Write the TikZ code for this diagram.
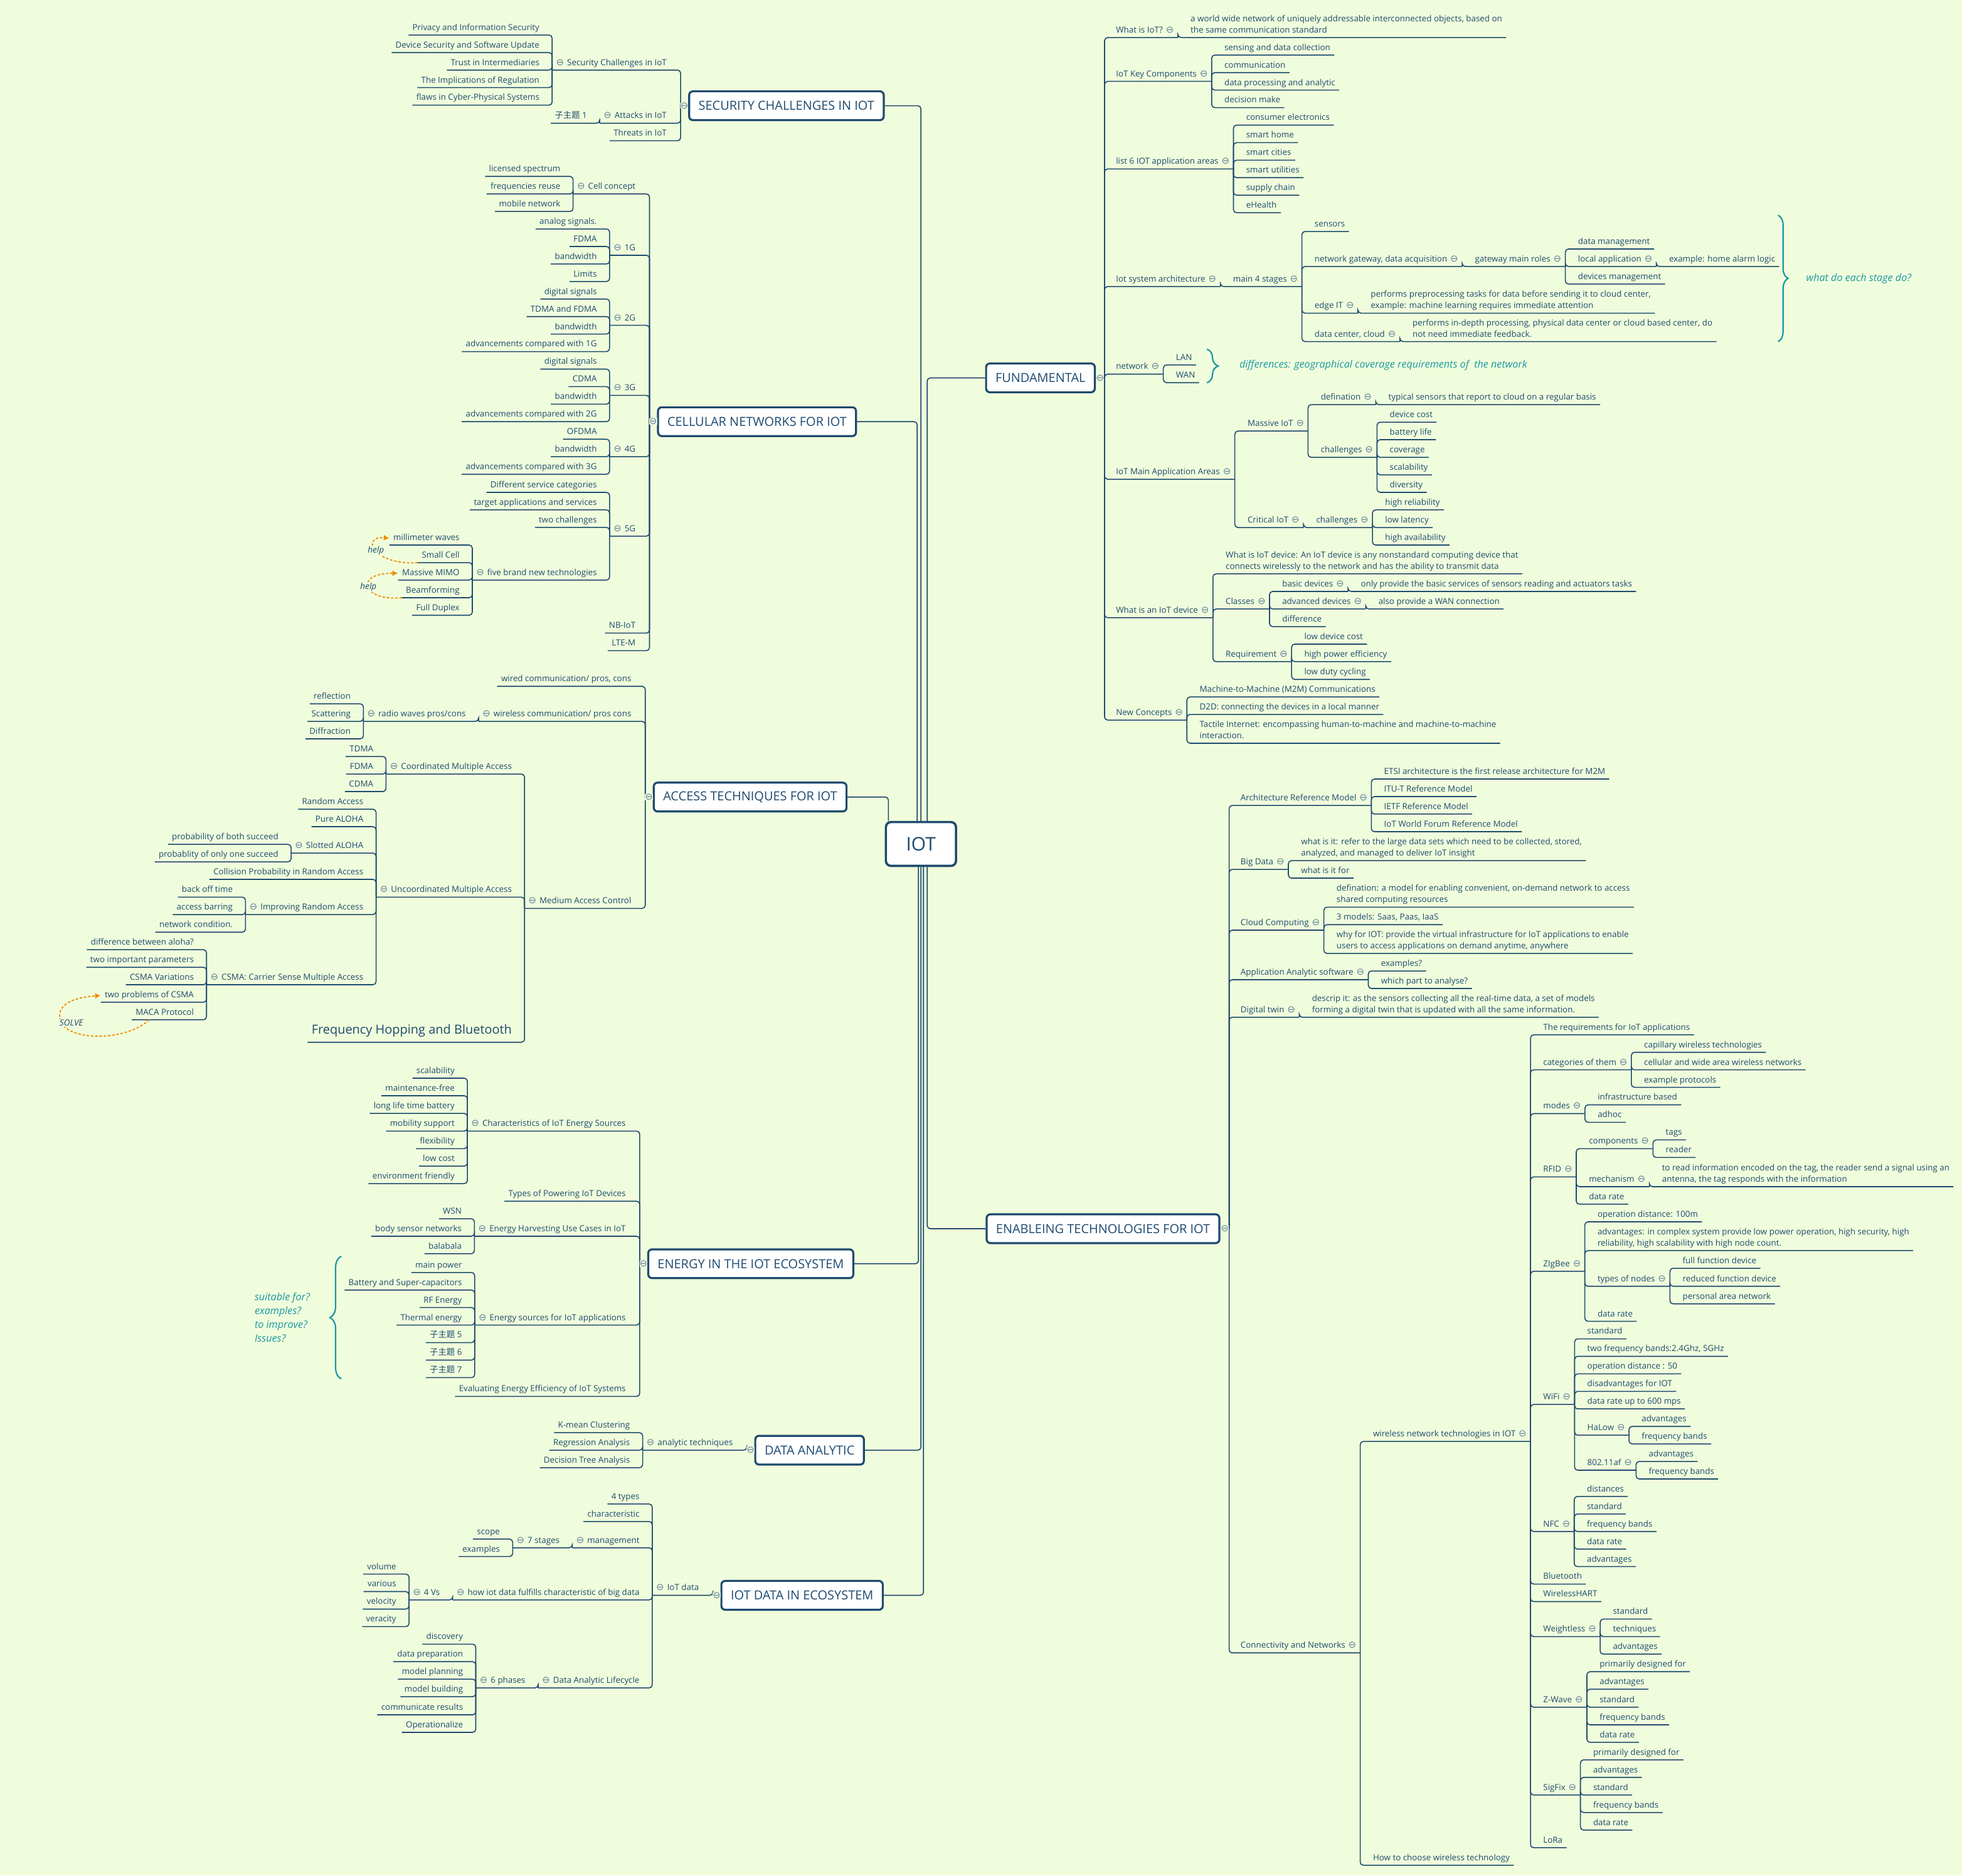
\documentclass[tikz,border=0pt]{standalone}
\usepackage{fontspec}
\setmainfont{Open Sans}
\newfontfamily\cjk{Noto Sans CJK SC}
\newfontfamily\mkfont{DejaVu Sans}
\usetikzlibrary{arrows.meta, decorations.pathreplacing}

\definecolor{paper}{HTML}{F0FDDC}
\definecolor{ink}{HTML}{1D4A6F}
\definecolor{notec}{HTML}{1797A3}
\definecolor{orng}{HTML}{F08C00}

\newcommand\mkr{{\mkfont\fontsize{7.5}{8}\selectfont\textcolor{ink!70}{⊖}}}
\newcommand\zt[1]{{\cjk 子主题} #1}
\newcommand\lnd{\rule[-1.6pt]{0pt}{1pt}}

\begin{document}
\begin{tikzpicture}[
  x=1pt, y=-1pt,
  every edge/.style={draw=ink, line width=.8pt, rounded corners=2.5pt, to path={|- (\tikztotarget)}},
  link/.style={draw=ink, line width=.8pt},
  lf/.style={font=\fontsize{6.7}{9}\selectfont, text=ink, inner xsep=3pt, inner ysep=2pt, text height=4.9pt, text depth=1.6pt},
  lfL/.style={lf, anchor=south east, xshift=-7pt},
  lfR/.style={lf, anchor=south west, xshift=7pt},
  hubL/.style={lfL, execute at begin node={\mkr\hspace{2.5pt}}},
  hubR/.style={lfR, execute at end node={\hspace{2.5pt}\mkr}},
  para/.style={font=\fontsize{6.7}{9}\selectfont, text=ink, inner xsep=3pt, inner ysep=2pt, align=left, anchor=south west, xshift=7pt},
  topic/.style={draw=ink, line width=1.6pt, rounded corners=3pt, fill=white, text=ink, font=\fontsize{10}{12}\selectfont, inner xsep=7.5pt, minimum height=23pt},
  mk/.style={font=\mkfont\fontsize{7.5}{8}\selectfont, text=ink!70, fill=paper, inner sep=0pt},
  remark/.style={text=notec, font=\fontsize{8.1}{11}\selectfont\itshape},
  bracelet/.style={draw=notec, line width=1.1pt, decorate, decoration={brace, amplitude=#1}},
  assoc/.style={draw=orng, line width=.9pt, dash pattern=on 2pt off 1.4pt, -{Latex[length=4.5pt,width=4.5pt]}},
  asclbl/.style={text=ink, font=\fontsize{6.8}{8}\selectfont\itshape, fill=paper, inner sep=.6pt}
]
\fill[paper] (0,0) rectangle (1568,1499);
\useasboundingbox (0,0) rectangle (1568,1499);

% centre and main topics
\node[topic, font=\fontsize{15}{18}\selectfont, minimum width=56pt, minimum height=35pt, rounded corners=4pt, line width=1.8pt] (iot) at (736,674.5) {IOT};
\node[topic] (sec) at (628.5,84.5) {SECURITY CHALLENGES IN IOT};
\node[topic] (cel) at (605,337) {CELLULAR NETWORKS FOR IOT};
\node[topic] (acc) at (599.5,637) {ACCESS TECHNIQUES FOR IOT};
\node[topic] (ene) at (600,1010) {ENERGY IN THE IOT ECOSYSTEM};
\node[topic] (dat) at (647,1159) {DATA ANALYTIC};
\node[topic] (iod) at (641,1275) {IOT DATA IN ECOSYSTEM};
\node[topic] (fun) at (831.5,302) {FUNDAMENTAL};
\node[topic] (ena) at (881.5,982) {ENABLEING TECHNOLOGIES FOR IOT};

\draw ([xshift=0pt]iot.north) edge (sec.east);
\draw ([xshift=-3pt]iot.north) edge (cel.east);
\draw ([xshift=-26pt]iot.north) edge (acc.east);
\draw ([xshift=5pt]iot.north) edge (fun.west);
\draw ([xshift=-2pt]iot.south) edge (ene.east);
\draw ([xshift=0pt]iot.south) edge (dat.east);
\draw ([xshift=2pt]iot.south) edge (iod.east);
\draw ([xshift=5pt]iot.south) edge (ena.west);

% security
\node[hubL, xshift=-7pt] (sc1) at (sec.west |- 0,56) {Security Challenges in IoT};
\node[lfL] (sc1a) at (sc1.south west |- 0,28) {Privacy and Information Security};
\node[lfL] (sc1b) at (sc1.south west |- 0,42) {Device Security and Software Update};
\node[lfL] (sc1c) at (sc1.south west |- 0,56) {Trust in Intermediaries};
\node[lfL] (sc1d) at (sc1.south west |- 0,70) {The Implications of Regulation};
\node[lfL] (sc1e) at (sc1.south west |- 0,84) {flaws in Cyber-Physical Systems};
\node[hubL, xshift=-7pt] (sc2) at (sec.west |- 0,98.5) {Attacks in IoT};
\node[lfL] (sc2a) at (sc2.south west |- 0,98.5) {\zt{1}};
\node[lfL, xshift=-7pt] (sc3) at (sec.west |- 0,112.5) {Threats in IoT};
\draw[link] (sec.west) -- ++(-6,0) edge (sc1.south west) edge (sc2.south west) edge (sc3.south west);
\draw (sc1.south west) edge (sc1a.south west) edge (sc1b.south west) edge (sc1c.south west) edge (sc1d.south west) edge (sc1e.south west);
\draw (sc2.south west) edge (sc2a.south west);

% cellular
\node[hubL, xshift=-7pt] (ce1) at (cel.west |- 0,155) {Cell concept};
\node[lfL] (ce1a) at (ce1.south west |- 0,141) {licensed spectrum};
\node[lfL] (ce1b) at (ce1.south west |- 0,155) {frequencies reuse};
\node[lfL] (ce1c) at (ce1.south west |- 0,169) {mobile network};
\node[hubL, xshift=-7pt] (ce2) at (cel.west |- 0,204) {1G};
\node[lfL] (ce2a) at (ce2.south west |- 0,183) {analog signals.};
\node[lfL] (ce2b) at (ce2.south west |- 0,197) {FDMA};
\node[lfL] (ce2c) at (ce2.south west |- 0,211) {bandwidth};
\node[lfL] (ce2d) at (ce2.south west |- 0,225) {Limits};
\node[hubL, xshift=-7pt] (ce3) at (cel.west |- 0,260) {2G};
\node[lfL] (ce3a) at (ce3.south west |- 0,239) {digital signals};
\node[lfL] (ce3b) at (ce3.south west |- 0,253) {TDMA and FDMA};
\node[lfL] (ce3c) at (ce3.south west |- 0,267) {bandwidth};
\node[lfL] (ce3d) at (ce3.south west |- 0,281) {advancements compared with 1G};
\node[hubL, xshift=-7pt] (ce4) at (cel.west |- 0,316) {3G};
\node[lfL] (ce4a) at (ce4.south west |- 0,295) {digital signals};
\node[lfL] (ce4b) at (ce4.south west |- 0,309) {CDMA};
\node[lfL] (ce4c) at (ce4.south west |- 0,323) {bandwidth};
\node[lfL] (ce4d) at (ce4.south west |- 0,337) {advancements compared with 2G};
\node[hubL, xshift=-7pt] (ce5) at (cel.west |- 0,365) {4G};
\node[lfL] (ce5a) at (ce5.south west |- 0,351) {OFDMA};
\node[lfL] (ce5b) at (ce5.south west |- 0,365) {bandwidth};
\node[lfL] (ce5c) at (ce5.south west |- 0,379) {advancements compared with 3G};
\node[hubL, xshift=-7pt] (ce6) at (cel.west |- 0,428.5) {5G};
\node[lfL] (ce6a) at (ce6.south west |- 0,393.5) {Different service categories};
\node[lfL] (ce6b) at (ce6.south west |- 0,407.5) {target applications and services};
\node[lfL] (ce6c) at (ce6.south west |- 0,421.5) {two challenges};
\node[hubL] (ce6d) at (ce6.south west |- 0,463.6) {five brand new technologies};
\node[lfL] (ce6d1) at (ce6d.south west |- 0,435.6) {millimeter waves};
\node[lfL] (ce6d2) at (ce6d.south west |- 0,449.7) {Small Cell};
\node[lfL] (ce6d3) at (ce6d.south west |- 0,463.6) {Massive MIMO};
\node[lfL] (ce6d4) at (ce6d.south west |- 0,477.7) {Beamforming};
\node[lfL] (ce6d5) at (ce6d.south west |- 0,491.7) {Full Duplex};
\node[lfL, xshift=-7pt] (ce7) at (cel.west |- 0,506) {NB-IoT};
\node[lfL, xshift=-7pt] (ce8) at (cel.west |- 0,520) {LTE-M};
\draw[link] (cel.west) -- ++(-6,0) edge (ce1.south west) edge (ce2.south west) edge (ce3.south west) edge (ce4.south west) edge (ce5.south west) edge (ce6.south west) edge (ce7.south west) edge (ce8.south west);
\draw (ce1.south west) edge (ce1a.south west) edge (ce1b.south west) edge (ce1c.south west);
\draw (ce2.south west) edge (ce2a.south west) edge (ce2b.south west) edge (ce2c.south west) edge (ce2d.south west);
\draw (ce3.south west) edge (ce3a.south west) edge (ce3b.south west) edge (ce3c.south west) edge (ce3d.south west);
\draw (ce4.south west) edge (ce4a.south west) edge (ce4b.south west) edge (ce4c.south west) edge (ce4d.south west);
\draw (ce5.south west) edge (ce5a.south west) edge (ce5b.south west) edge (ce5c.south west);
\draw (ce6.south west) edge (ce6a.south west) edge (ce6b.south west) edge (ce6c.south west) edge (ce6d.south west);
\draw (ce6d.south west) edge (ce6d1.south west) edge (ce6d2.south west) edge (ce6d3.south west) edge (ce6d4.south west) edge (ce6d5.south west);
\draw[assoc] (ce6d2.south west) .. controls (298,452) and (288,428) .. (ce6d1.west) node[asclbl, pos=.5] (hp1) {help};
\draw[assoc] (ce6d4.south west) .. controls (290,481) and (282,458) .. (ce6d3.west) node[asclbl, pos=.5] (hp2) {help};

% access techniques
\node[lfL, xshift=-7pt] (ac1) at (acc.west |- 0,548.5) {wired communication/ pros, cons};
\node[hubL, xshift=-7pt] (ac2) at (acc.west |- 0,576.5) {wireless communication/ pros cons};
\node[hubL] (ac2a) at (ac2.south west |- 0,576.5) {radio waves pros/cons};
\node[lfL] (ac2a1) at (ac2a.south west |- 0,562.5) {reflection};
\node[lfL] (ac2a2) at (ac2a.south west |- 0,576.5) {Scattering};
\node[lfL] (ac2a3) at (ac2a.south west |- 0,590.5) {Diffraction};
\node[hubL, xshift=-7pt] (ac3) at (acc.west |- 0,726) {Medium Access Control};
\node[hubL] (ac3a) at (ac3.south west |- 0,618.6) {Coordinated Multiple Access};
\node[lfL] (ac3a1) at (ac3a.south west |- 0,604.6) {TDMA};
\node[lfL] (ac3a2) at (ac3a.south west |- 0,618.6) {FDMA};
\node[lfL] (ac3a3) at (ac3a.south west |- 0,632.6) {CDMA};
\node[hubL] (ac3b) at (ac3.south west |- 0,717) {Uncoordinated Multiple Access};
\node[lfL] (ac3b1) at (ac3b.south west |- 0,646.7) {Random Access};
\node[lfL] (ac3b2) at (ac3b.south west |- 0,660.7) {Pure ALOHA};
\node[hubL] (ac3b3) at (ac3b.south west |- 0,681.8) {Slotted ALOHA};
\node[lfL] (ac3b3a) at (ac3b3.south west |- 0,674.8) {probability of both succeed};
\node[lfL] (ac3b3b) at (ac3b3.south west |- 0,688.8) {probablity of only one succeed};
\node[lfL] (ac3b4) at (ac3b.south west |- 0,702.8) {Collision Probability in Random Access};
\node[hubL] (ac3b5) at (ac3b.south west |- 0,730.9) {Improving Random Access};
\node[lfL] (ac3b5a) at (ac3b5.south west |- 0,717) {back off time};
\node[lfL] (ac3b5b) at (ac3b5.south west |- 0,731) {access barring};
\node[lfL] (ac3b5c) at (ac3b5.south west |- 0,745) {network condition.};
\node[hubL] (ac3b6) at (ac3b.south west |- 0,787) {CSMA: Carrier Sense Multiple Access};
\node[lfL] (ac3b6a) at (ac3b6.south west |- 0,759) {difference between aloha?};
\node[lfL] (ac3b6b) at (ac3b6.south west |- 0,773) {two important parameters};
\node[lfL] (ac3b6c) at (ac3b6.south west |- 0,787) {CSMA Variations};
\node[lfL] (ac3b6d) at (ac3b6.south west |- 0,801) {two problems of CSMA};
\node[lfL] (ac3b6e) at (ac3b6.south west |- 0,815) {MACA Protocol};
\node[lfL, font=\fontsize{10}{12}\selectfont, text height=7.3pt, text depth=2.3pt, inner ysep=4pt] (ac3c) at (ac3.south west |- 0,833) {Frequency Hopping and Bluetooth};
\draw[link] (acc.west) -- ++(-6,0) edge (ac1.south west) edge (ac2.south west) edge (ac3.south west);
\draw (ac2.south west) edge (ac2a.south west);
\draw (ac2a.south west) edge (ac2a1.south west) edge (ac2a2.south west) edge (ac2a3.south west);
\draw (ac3.south west) edge (ac3a.south west) edge (ac3b.south west) edge (ac3c.south west);
\draw (ac3a.south west) edge (ac3a1.south west) edge (ac3a2.south west) edge (ac3a3.south west);
\draw (ac3b.south west) edge (ac3b1.south west) edge (ac3b2.south west) edge (ac3b3.south west) edge (ac3b4.south west) edge (ac3b5.south west) edge (ac3b6.south west);
\draw (ac3b3.south west) edge (ac3b3a.south west) edge (ac3b3b.south west);
\draw (ac3b5.south west) edge (ac3b5a.south west) edge (ac3b5b.south west) edge (ac3b5c.south west);
\draw (ac3b6.south west) edge (ac3b6a.south west) edge (ac3b6b.south west) edge (ac3b6c.south west) edge (ac3b6d.south west) edge (ac3b6e.south west);
\draw[assoc] ([xshift=14pt]ac3b6e.south west) .. controls (100,833) and (52,832) .. (48,815) .. controls (45,801) and (62,797) .. (ac3b6d.west);
\node[asclbl] (sv) at (57,817.5) {SOLVE};

% energy
\node[hubL, xshift=-7pt] (en1) at (ene.west |- 0,904) {Characteristics of IoT Energy Sources};
\node[lfL] (en1a) at (en1.south west |- 0,861.7) {scalability};
\node[lfL] (en1b) at (en1.south west |- 0,875.7) {maintenance-free};
\node[lfL] (en1c) at (en1.south west |- 0,889.8) {long life time battery};
\node[lfL] (en1d) at (en1.south west |- 0,904) {mobility support};
\node[lfL] (en1e) at (en1.south west |- 0,918) {flexibility};
\node[lfL] (en1f) at (en1.south west |- 0,932) {low cost};
\node[lfL] (en1g) at (en1.south west |- 0,946) {environment friendly};
\node[lfL, xshift=-7pt] (en2) at (ene.west |- 0,960) {Types of Powering IoT Devices};
\node[hubL, xshift=-7pt] (en3) at (ene.west |- 0,988) {Energy Harvesting Use Cases in IoT};
\node[lfL] (en3a) at (en3.south west |- 0,974) {WSN};
\node[lfL] (en3b) at (en3.south west |- 0,988) {body sensor networks};
\node[lfL] (en3c) at (en3.south west |- 0,1002) {balabala};
\node[hubL, xshift=-7pt] (en4) at (ene.west |- 0,1059) {Energy sources for IoT applications};
\node[lfL] (en4a) at (en4.south west |- 0,1017) {main power};
\node[lfL] (en4b) at (en4.south west |- 0,1031) {Battery and Super-capacitors};
\node[lfL] (en4c) at (en4.south west |- 0,1045) {RF Energy};
\node[lfL] (en4d) at (en4.south west |- 0,1059) {Thermal energy};
\node[lfL] (en4e) at (en4.south west |- 0,1073) {\zt{5}};
\node[lfL] (en4f) at (en4.south west |- 0,1087) {\zt{6}};
\node[lfL] (en4g) at (en4.south west |- 0,1101) {\zt{7}};
\node[lfL, xshift=-7pt] (en5) at (ene.west |- 0,1116) {Evaluating Energy Efficiency of IoT Systems};
\draw[link] (ene.west) -- ++(-6,0) edge (en1.south west) edge (en2.south west) edge (en3.south west) edge (en4.south west) edge (en5.south west);
\draw (en1.south west) edge (en1a.south west) edge (en1b.south west) edge (en1c.south west) edge (en1d.south west) edge (en1e.south west) edge (en1f.south west) edge (en1g.south west);
\draw (en3.south west) edge (en3a.south west) edge (en3b.south west) edge (en3c.south west);
\draw (en4.south west) edge (en4a.south west) edge (en4b.south west) edge (en4c.south west) edge (en4d.south west) edge (en4e.south west) edge (en4f.south west) edge (en4g.south west);
\draw[bracelet=9pt] (272.7,1102) -- (272.7,1004);
\node[remark, align=left, anchor=west] (q3) at (200,1053) {suitable for?\\examples?\\to improve?\\Issues?};

% data analytic
\node[hubL, xshift=-7pt] (da1) at (dat.west |- 0,1159) {analytic techniques};
\node[lfL] (da1a) at (da1.south west |- 0,1145) {K-mean Clustering};
\node[lfL] (da1b) at (da1.south west |- 0,1159) {Regression Analysis};
\node[lfL] (da1c) at (da1.south west |- 0,1173) {Decision Tree Analysis};
\draw[link] (dat.west) -- ++(-6,0) edge (da1.south west);
\draw (da1.south west) edge (da1a.south west) edge (da1b.south west) edge (da1c.south west);

% iot data
\node[hubL, xshift=-7pt] (id1) at (iod.west |- 0,1275) {IoT data};
\node[lfL] (id1a) at (id1.south west |- 0,1202) {4 types};
\node[lfL] (id1b) at (id1.south west |- 0,1216) {characteristic};
\node[hubL] (id1c) at (id1.south west |- 0,1237) {management};
\node[hubL] (id1c1) at (id1c.south west |- 0,1237) {7 stages};
\node[lfL] (id1c1a) at (id1c1.south west |- 0,1230) {scope};
\node[lfL] (id1c1b) at (id1c1.south west |- 0,1244) {examples};
\node[hubL] (id1d) at (id1.south west |- 0,1278.7) {how iot data fulfills characteristic of big data};
\node[hubL] (id1d1) at (id1d.south west |- 0,1278.7) {4 Vs};
\node[lfL] (id1d1a) at (id1d1.south west |- 0,1258) {volume};
\node[lfL] (id1d1b) at (id1d1.south west |- 0,1272) {various};
\node[lfL] (id1d1c) at (id1d1.south west |- 0,1286) {velocity};
\node[lfL] (id1d1d) at (id1d1.south west |- 0,1300) {veracity};
\node[hubL] (id1e) at (id1.south west |- 0,1349) {Data Analytic Lifecycle};
\node[hubL] (id1e1) at (id1e.south west |- 0,1349) {6 phases};
\node[lfL] (id1e1a) at (id1e1.south west |- 0,1314) {discovery};
\node[lfL] (id1e1b) at (id1e1.south west |- 0,1328) {data preparation};
\node[lfL] (id1e1c) at (id1e1.south west |- 0,1342) {model planning};
\node[lfL] (id1e1d) at (id1e1.south west |- 0,1356) {model building};
\node[lfL] (id1e1e) at (id1e1.south west |- 0,1370.5) {communicate results};
\node[lfL] (id1e1f) at (id1e1.south west |- 0,1384.5) {Operationalize};
\draw[link] (iod.west) -- ++(-6,0) edge (id1.south west);
\draw (id1.south west) edge (id1a.south west) edge (id1b.south west) edge (id1c.south west) edge (id1d.south west) edge (id1e.south west);
\draw (id1c.south west) edge (id1c1.south west);
\draw (id1c1.south west) edge (id1c1a.south west) edge (id1c1b.south west);
\draw (id1d.south west) edge (id1d1.south west);
\draw (id1d1.south west) edge (id1d1a.south west) edge (id1d1b.south west) edge (id1d1c.south west) edge (id1d1d.south west);
\draw (id1e.south west) edge (id1e1.south west);
\draw (id1e1.south west) edge (id1e1a.south west) edge (id1e1b.south west) edge (id1e1c.south west) edge (id1e1d.south west) edge (id1e1e.south west) edge (id1e1f.south west);

% fundamental
\node[hubR, xshift=6pt] (fu1) at (fun.east |- 0,30) {What is IoT?};
\node[para] (fu1a) at (fu1.south east |- 0,30) {a world wide network of uniquely addressable interconnected objects, based on\\the same communication standard\lnd};
\node[hubR, xshift=6pt] (fu2) at (fun.east |- 0,65) {IoT Key Components};
\node[lfR] (fu2a) at (fu2.south east |- 0,44) {sensing and data collection};
\node[lfR] (fu2b) at (fu2.south east |- 0,58) {communication};
\node[lfR] (fu2c) at (fu2.south east |- 0,72) {data processing and analytic};
\node[lfR] (fu2d) at (fu2.south east |- 0,86) {decision make};
\node[hubR, xshift=6pt] (fu3) at (fun.east |- 0,135) {list 6 IOT application areas};
\node[lfR] (fu3a) at (fu3.south east |- 0,100) {consumer electronics};
\node[lfR] (fu3b) at (fu3.south east |- 0,114) {smart home};
\node[lfR] (fu3c) at (fu3.south east |- 0,128) {smart cities};
\node[lfR] (fu3d) at (fu3.south east |- 0,142) {smart utilities};
\node[lfR] (fu3e) at (fu3.south east |- 0,156) {supply chain};
\node[lfR] (fu3f) at (fu3.south east |- 0,170) {eHealth};
\node[hubR, xshift=6pt] (fu4) at (fun.east |- 0,229) {Iot system architecture};
\node[hubR] (fu4a) at (fu4.south east |- 0,229) {main 4 stages};
\node[lfR] (fu4a1) at (fu4a.south east |- 0,185) {sensors};
\node[hubR] (fu4a2) at (fu4a.south east |- 0,213) {network gateway, data acquisition};
\node[hubR] (fu4a2a) at (fu4a2.south east |- 0,213) {gateway main roles};
\node[lfR] (fu4r1) at (fu4a2a.south east |- 0,199) {data management};
\node[hubR] (fu4r2) at (fu4a2a.south east |- 0,213) {local application};
\node[lfR] (fu4r2a) at (fu4r2.south east |- 0,213) {example: home alarm logic};
\node[lfR] (fu4r3) at (fu4a2a.south east |- 0,227) {devices management};
\node[hubR] (fu4a3) at (fu4a.south east |- 0,250.3) {edge IT};
\node[para] (fu4a3a) at (fu4a3.south east |- 0,250.3) {performs preprocessing tasks for data before sending it to cloud center,\\example: machine learning requires immediate attention\lnd};
\node[hubR] (fu4a4) at (fu4a.south east |- 0,273) {data center, cloud};
\node[para] (fu4a4a) at (fu4a4.south east |- 0,273) {performs in-depth processing, physical data center or cloud based center, do\\not need immediate feedback.\lnd};
\node[hubR, xshift=6pt] (fu5) at (fun.east |- 0,299) {network};
\node[lfR] (fu5a) at (fu5.south east |- 0,291.7) {LAN};
\node[lfR] (fu5b) at (fu5.south east |- 0,305.8) {WAN};
\node[hubR, xshift=6pt] (fu6) at (fun.east |- 0,383) {IoT Main Application Areas};
\node[hubR] (fu6a) at (fu6.south east |- 0,344.5) {Massive IoT};
\node[hubR] (fu6a1) at (fu6a.south east |- 0,323.4) {defination};
\node[lfR] (fu6a1a) at (fu6a1.south east |- 0,323.4) {typical sensors that report to cloud on a regular basis};
\node[hubR] (fu6a2) at (fu6a.south east |- 0,365.5) {challenges};
\node[lfR] (fu6a2a) at (fu6a2.south east |- 0,337.4) {device cost};
\node[lfR] (fu6a2b) at (fu6a2.south east |- 0,351.4) {battery life};
\node[lfR] (fu6a2c) at (fu6a2.south east |- 0,365.5) {coverage};
\node[lfR] (fu6a2d) at (fu6a2.south east |- 0,379.5) {scalability};
\node[lfR] (fu6a2e) at (fu6a2.south east |- 0,393.5) {diversity};
\node[hubR] (fu6b) at (fu6.south east |- 0,421.6) {Critical IoT};
\node[hubR] (fu6b1) at (fu6b.south east |- 0,421.6) {challenges};
\node[lfR] (fu6b1a) at (fu6b1.south east |- 0,407.5) {high reliability};
\node[lfR] (fu6b1b) at (fu6b1.south east |- 0,421.6) {low latency};
\node[lfR] (fu6b1c) at (fu6b1.south east |- 0,435.6) {high availability};
\node[hubR, xshift=6pt] (fu7) at (fun.east |- 0,493.7) {What is an IoT device};
\node[para] (fu7a) at (fu7.south east |- 0,458.6) {What is IoT device: An IoT device is any nonstandard computing device that\\connects wirelessly to the network and has the ability to transmit data\lnd};
\node[hubR] (fu7b) at (fu7.south east |- 0,486.7) {Classes};
\node[hubR] (fu7b1) at (fu7b.south east |- 0,472.7) {basic devices};
\node[lfR] (fu7b1a) at (fu7b1.south east |- 0,472.7) {only provide the basic services of sensors reading and actuators tasks};
\node[hubR] (fu7b2) at (fu7b.south east |- 0,486.7) {advanced devices};
\node[lfR] (fu7b2a) at (fu7b2.south east |- 0,486.7) {also provide a WAN connection};
\node[lfR] (fu7b3) at (fu7b.south east |- 0,500.8) {difference};
\node[hubR] (fu7c) at (fu7.south east |- 0,528.8) {Requirement};
\node[lfR] (fu7c1) at (fu7c.south east |- 0,514.8) {low device cost};
\node[lfR] (fu7c2) at (fu7c.south east |- 0,528.8) {high power efficiency};
\node[lfR] (fu7c3) at (fu7c.south east |- 0,543) {low duty cycling};
\node[hubR, xshift=6pt] (fu8) at (fun.east |- 0,575.5) {New Concepts};
\node[lfR] (fu8a) at (fu8.south east |- 0,557) {Machine-to-Machine (M2M) Communications};
\node[lfR] (fu8b) at (fu8.south east |- 0,571) {D2D: connecting the devices in a local manner};
\node[para] (fu8c) at (fu8.south east |- 0,594) {Tactile Internet: encompassing human-to-machine and machine-to-machine\\interaction.\lnd};
\draw[link] (fun.east) -- ++(7,0) edge (fu1.south east) edge (fu2.south east) edge (fu3.south east) edge (fu4.south east) edge (fu5.south east) edge (fu6.south east) edge (fu7.south east) edge (fu8.south east);
\draw (fu1.south east) edge (fu1a.south east);
\draw (fu2.south east) edge (fu2a.south east) edge (fu2b.south east) edge (fu2c.south east) edge (fu2d.south east);
\draw (fu3.south east) edge (fu3a.south east) edge (fu3b.south east) edge (fu3c.south east) edge (fu3d.south east) edge (fu3e.south east) edge (fu3f.south east);
\draw (fu4.south east) edge (fu4a.south east);
\draw (fu4a.south east) edge (fu4a1.south east) edge (fu4a2.south east) edge (fu4a3.south east) edge (fu4a4.south east);
\draw (fu4a2.south east) edge (fu4a2a.south east);
\draw (fu4a2a.south east) edge (fu4r1.south east) edge (fu4r2.south east) edge (fu4r3.south east);
\draw (fu4r2.south east) edge (fu4r2a.south east);
\draw (fu4a3.south east) edge (fu4a3a.south east);
\draw (fu4a4.south east) edge (fu4a4a.south east);
\draw (fu5.south east) edge (fu5a.south east) edge (fu5b.south east);
\draw (fu6.south east) edge (fu6a.south east) edge (fu6b.south east);
\draw (fu6a.south east) edge (fu6a1.south east) edge (fu6a2.south east);
\draw (fu6a1.south east) edge (fu6a1a.south east);
\draw (fu6a2.south east) edge (fu6a2a.south east) edge (fu6a2b.south east) edge (fu6a2c.south east) edge (fu6a2d.south east) edge (fu6a2e.south east);
\draw (fu6b.south east) edge (fu6b1.south east);
\draw (fu6b1.south east) edge (fu6b1a.south east) edge (fu6b1b.south east) edge (fu6b1c.south east);
\draw (fu7.south east) edge (fu7a.south east) edge (fu7b.south east) edge (fu7c.south east);
\draw (fu7b.south east) edge (fu7b1.south east) edge (fu7b2.south east) edge (fu7b3.south east);
\draw (fu7b1.south east) edge (fu7b1a.south east);
\draw (fu7b2.south east) edge (fu7b2a.south east);
\draw (fu7c.south east) edge (fu7c1.south east) edge (fu7c2.south east) edge (fu7c3.south east);
\draw (fu8.south east) edge (fu8a.south east) edge (fu8b.south east) edge (fu8c.south east);
\draw[bracelet=8pt] (1421,172) -- (1421,273);
\node[remark, anchor=west] (q1) at (1440,222.6) {what do each stage do?};
\draw[bracelet=9pt] (964.5,279) -- (964.5,306);
\node[remark, anchor=west] (q2) at (987,292) {differences: geographical coverage requirements of\ \ the network};

% enabling technologies
\node[hubR, xshift=6pt] (eb1) at (ena.east |- 0,643.7) {Architecture Reference Model};
\node[lfR] (eb1a) at (eb1.south east |- 0,622.6) {ETSI architecture is the first release architecture for M2M};
\node[lfR] (eb1b) at (eb1.south east |- 0,636.6) {ITU-T Reference Model};
\node[lfR] (eb1c) at (eb1.south east |- 0,650.6) {IETF Reference Model};
\node[lfR] (eb1d) at (eb1.south east |- 0,664.7) {IoT World Forum Reference Model};
\node[hubR, xshift=6pt] (eb2) at (ena.east |- 0,694.8) {Big Data};
\node[para] (eb2a) at (eb2.south east |- 0,687.8) {what is it: refer to the large data sets which need to be collected, stored,\\analyzed, and managed to deliver IoT insight\lnd};
\node[lfR] (eb2b) at (eb2.south east |- 0,701.8) {what is it for};
\node[hubR, xshift=6pt] (eb3) at (ena.east |- 0,743.4) {Cloud Computing};
\node[para] (eb3a) at (eb3.south east |- 0,725) {defination: a model for enabling convenient, on-demand network to access\\shared computing resources\lnd};
\node[lfR] (eb3b) at (eb3.south east |- 0,739) {3 models: Saas, Paas, IaaS};
\node[para] (eb3c) at (eb3.south east |- 0,762) {why for IOT: provide the virtual infrastructure for IoT applications to enable\\users to access applications on demand anytime, anywhere\lnd};
\node[hubR, xshift=6pt] (eb4) at (ena.east |- 0,783) {Application Analytic software};
\node[lfR] (eb4a) at (eb4.south east |- 0,776) {examples?};
\node[lfR] (eb4b) at (eb4.south east |- 0,790) {which part to analyse?};
\node[hubR, xshift=6pt] (eb5) at (ena.east |- 0,813) {Digital twin};
\node[para] (eb5a) at (eb5.south east |- 0,813) {descrip it: as the sensors collecting all the real-time data, a set of models\\forming a digital twin that is updated with all the same information.\lnd};
\node[hubR, xshift=6pt] (eb6) at (ena.east |- 0,1321) {Connectivity and Networks};
\node[hubR] (wn) at (eb6.south east |- 0,1152) {wireless network technologies in IOT};
\node[lfR] (eb6b) at (eb6.south east |- 0,1490.7) {How to choose wireless technology};
\node[lfR] (wn1) at (wn.south east |- 0,827) {The requirements for IoT applications};
\node[hubR] (wn2) at (wn.south east |- 0,855) {categories of them};
\node[lfR] (wn2a) at (wn2.south east |- 0,841) {capillary wireless technologies};
\node[lfR] (wn2b) at (wn2.south east |- 0,855) {cellular and wide area wireless networks};
\node[lfR] (wn2c) at (wn2.south east |- 0,869) {example protocols};
\node[hubR] (wn3) at (wn.south east |- 0,890) {modes};
\node[lfR] (wn3a) at (wn3.south east |- 0,883) {infrastructure based};
\node[lfR] (wn3b) at (wn3.south east |- 0,897) {adhoc};
\node[hubR] (wn4) at (wn.south east |- 0,940.6) {RFID};
\node[hubR] (wn4a) at (wn4.south east |- 0,918) {components};
\node[lfR] (wn4a1) at (wn4a.south east |- 0,911) {tags};
\node[lfR] (wn4a2) at (wn4a.south east |- 0,925) {reader};
\node[hubR] (wn4b) at (wn4.south east |- 0,948.4) {mechanism};
\node[para] (wn4b1) at (wn4b.south east |- 0,948.4) {to read information encoded on the tag, the reader send a signal using an\\antenna, the tag responds with the information\lnd};
\node[lfR] (wn4c) at (wn4.south east |- 0,962.4) {data rate};
\node[hubR] (wn5) at (wn.south east |- 0,1016) {ZIgBee};
\node[lfR] (wn5a) at (wn5.south east |- 0,976.5) {operation distance: 100m};
\node[para] (wn5b) at (wn5.south east |- 0,999.5) {advantages: in complex system provide low power operation, high security, high\\reliability, high scalability with high node count.\lnd};
\node[hubR] (wn5c) at (wn5.south east |- 0,1028) {types of nodes};
\node[lfR] (wn5c1) at (wn5c.south east |- 0,1013.6) {full function device};
\node[lfR] (wn5c2) at (wn5c.south east |- 0,1028) {reduced function device};
\node[lfR] (wn5c3) at (wn5c.south east |- 0,1042) {personal area network};
\node[lfR] (wn5d) at (wn5.south east |- 0,1056) {data rate};
\node[hubR] (wn6) at (wn.south east |- 0,1122.4) {WiFi};
\node[lfR] (wn6a) at (wn6.south east |- 0,1070) {standard};
\node[lfR] (wn6b) at (wn6.south east |- 0,1084) {two frequency bands:2.4Ghz, 5GHz};
\node[lfR] (wn6c) at (wn6.south east |- 0,1098) {operation distance : 50};
\node[lfR] (wn6d) at (wn6.south east |- 0,1112) {disadvantages for IOT};
\node[lfR] (wn6e) at (wn6.south east |- 0,1126) {data rate up to 600 mps};
\node[hubR] (wn6f) at (wn6.south east |- 0,1147) {HaLow};
\node[lfR] (wn6f1) at (wn6f.south east |- 0,1140) {advantages};
\node[lfR] (wn6f2) at (wn6f.south east |- 0,1154) {frequency bands};
\node[hubR] (wn6g) at (wn6.south east |- 0,1175) {802.11af};
\node[lfR] (wn6g1) at (wn6g.south east |- 0,1168) {advantages};
\node[lfR] (wn6g2) at (wn6g.south east |- 0,1182) {frequency bands};
\node[hubR] (wn7) at (wn.south east |- 0,1224) {NFC};
\node[lfR] (wn7a) at (wn7.south east |- 0,1196) {distances};
\node[lfR] (wn7b) at (wn7.south east |- 0,1210) {standard};
\node[lfR] (wn7c) at (wn7.south east |- 0,1224) {frequency bands};
\node[lfR] (wn7d) at (wn7.south east |- 0,1238) {data rate};
\node[lfR] (wn7e) at (wn7.south east |- 0,1252) {advantages};
\node[lfR] (wn8) at (wn.south east |- 0,1266) {Bluetooth};
\node[lfR] (wn9) at (wn.south east |- 0,1280) {WirelessHART};
\node[hubR] (wn10) at (wn.south east |- 0,1308) {Weightless};
\node[lfR] (wn10a) at (wn10.south east |- 0,1294) {standard};
\node[lfR] (wn10b) at (wn10.south east |- 0,1308) {techniques};
\node[lfR] (wn10c) at (wn10.south east |- 0,1322) {advantages};
\node[hubR] (wn11) at (wn.south east |- 0,1364.4) {Z-Wave};
\node[lfR] (wn11a) at (wn11.south east |- 0,1336) {primarily designed for};
\node[lfR] (wn11b) at (wn11.south east |- 0,1350) {advantages};
\node[lfR] (wn11c) at (wn11.south east |- 0,1364.4) {standard};
\node[lfR] (wn11d) at (wn11.south east |- 0,1378.5) {frequency bands};
\node[lfR] (wn11e) at (wn11.south east |- 0,1392.5) {data rate};
\node[hubR] (wn12) at (wn.south east |- 0,1434.6) {SigFix};
\node[lfR] (wn12a) at (wn12.south east |- 0,1406.5) {primarily designed for};
\node[lfR] (wn12b) at (wn12.south east |- 0,1420.5) {advantages};
\node[lfR] (wn12c) at (wn12.south east |- 0,1434.6) {standard};
\node[lfR] (wn12d) at (wn12.south east |- 0,1448.6) {frequency bands};
\node[lfR] (wn12e) at (wn12.south east |- 0,1462.6) {data rate};
\node[lfR] (wn13) at (wn.south east |- 0,1476.7) {LoRa};
\draw[link] (ena.east) -- ++(7,0) edge (eb1.south east) edge (eb2.south east) edge (eb3.south east) edge (eb4.south east) edge (eb5.south east) edge (eb6.south east);
\draw (eb1.south east) edge (eb1a.south east) edge (eb1b.south east) edge (eb1c.south east) edge (eb1d.south east);
\draw (eb2.south east) edge (eb2a.south east) edge (eb2b.south east);
\draw (eb3.south east) edge (eb3a.south east) edge (eb3b.south east) edge (eb3c.south east);
\draw (eb4.south east) edge (eb4a.south east) edge (eb4b.south east);
\draw (eb5.south east) edge (eb5a.south east);
\draw (eb6.south east) edge (wn.south east) edge (eb6b.south east);
\draw (wn.south east) edge (wn1.south east) edge (wn2.south east) edge (wn3.south east) edge (wn4.south east) edge (wn5.south east) edge (wn6.south east) edge (wn7.south east) edge (wn8.south east) edge (wn9.south east) edge (wn10.south east) edge (wn11.south east) edge (wn12.south east) edge (wn13.south east);
\draw (wn2.south east) edge (wn2a.south east) edge (wn2b.south east) edge (wn2c.south east);
\draw (wn3.south east) edge (wn3a.south east) edge (wn3b.south east);
\draw (wn4.south east) edge (wn4a.south east) edge (wn4b.south east) edge (wn4c.south east);
\draw (wn4a.south east) edge (wn4a1.south east) edge (wn4a2.south east);
\draw (wn4b.south east) edge (wn4b1.south east);
\draw (wn5.south east) edge (wn5a.south east) edge (wn5b.south east) edge (wn5c.south east) edge (wn5d.south east);
\draw (wn5c.south east) edge (wn5c1.south east) edge (wn5c2.south east) edge (wn5c3.south east);
\draw (wn6.south east) edge (wn6a.south east) edge (wn6b.south east) edge (wn6c.south east) edge (wn6d.south east) edge (wn6e.south east) edge (wn6f.south east) edge (wn6g.south east);
\draw (wn6f.south east) edge (wn6f1.south east) edge (wn6f2.south east);
\draw (wn6g.south east) edge (wn6g1.south east) edge (wn6g2.south east);
\draw (wn7.south east) edge (wn7a.south east) edge (wn7b.south east) edge (wn7c.south east) edge (wn7d.south east) edge (wn7e.south east);
\draw (wn10.south east) edge (wn10a.south east) edge (wn10b.south east) edge (wn10c.south east);
\draw (wn11.south east) edge (wn11a.south east) edge (wn11b.south east) edge (wn11c.south east) edge (wn11d.south east) edge (wn11e.south east);
\draw (wn12.south east) edge (wn12a.south east) edge (wn12b.south east) edge (wn12c.south east) edge (wn12d.south east) edge (wn12e.south east);

% collapse markers of the main topics
\node[mk] (secm) at ([xshift=-3pt]sec.west) {⊖};
\node[mk] (celm) at ([xshift=-3pt]cel.west) {⊖};
\node[mk] (accm) at ([xshift=-3pt]acc.west) {⊖};
\node[mk] (enem) at ([xshift=-3pt]ene.west) {⊖};
\node[mk] (datm) at ([xshift=-3pt]dat.west) {⊖};
\node[mk] (iodm) at ([xshift=-3pt]iod.west) {⊖};
\node[mk] (funm) at ([xshift=3.5pt]fun.east) {⊖};
\node[mk] (enam) at ([xshift=3.5pt]ena.east) {⊖};
\end{tikzpicture}
\end{document}
